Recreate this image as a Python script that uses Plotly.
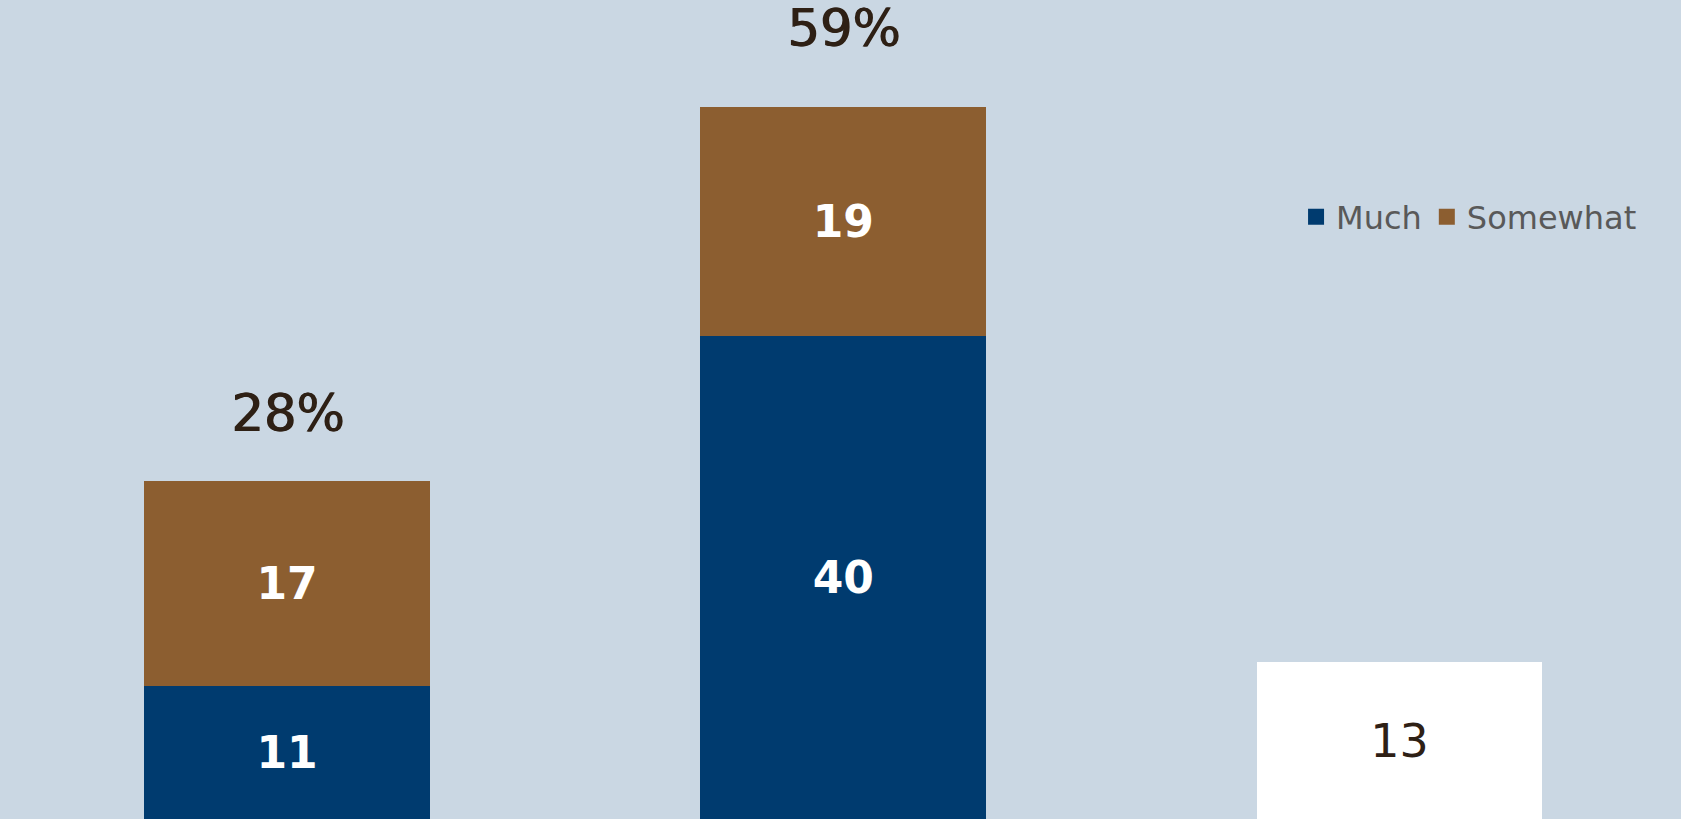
import plotly.graph_objects as go

categories = ["Group 1", "Group 2", "Group 3"]
much = [11, 40, None]
somewhat = [17, 19, None]
other = [None, None, 13]
totals = [28, 59, None]
total_labels = ["28%", "59%", None]
label_shift = [68, 78, None]

NAVY = "#003B6F"
BROWN = "#8C5E30"
BG = "#CAD7E3"
DARK = "#2E2015"

fig = go.Figure()
fig.add_trace(go.Bar(
    x=categories, y=much, name="Much", showlegend=False,
    marker=dict(color=NAVY, line=dict(width=0)),
    text=[str(v) if v is not None else "" for v in much], textposition="inside",
    insidetextanchor="middle", textangle=0,
    textfont=dict(family="DejaVu Sans", size=44, color="white", weight="bold"),
    width=0.514,
))
fig.add_trace(go.Bar(
    x=categories, y=somewhat, name="Somewhat", showlegend=False,
    marker=dict(color=BROWN, line=dict(width=0)),
    text=[str(v) if v is not None else "" for v in somewhat], textposition="inside",
    insidetextanchor="middle", textangle=0,
    textfont=dict(family="DejaVu Sans", size=44, color="white", weight="bold"),
    width=0.514,
))
fig.add_trace(go.Bar(
    x=categories, y=other, name="Other", showlegend=False,
    marker=dict(color="white", line=dict(width=0)),
    text=[str(v) if v is not None else "" for v in other], textposition="inside",
    insidetextanchor="middle", textangle=0,
    textfont=dict(family="DejaVu Sans", size=46, color=DARK),
    width=0.514,
))

# legend entries (square markers)
for name, col, grp in [("Much", NAVY, "g1"), ("Somewhat", BROWN, "g2")]:
    fig.add_trace(go.Scatter(x=[None], y=[None], mode="markers", name=name, legendgroup=grp,
                             marker=dict(symbol="square", size=16, color=col)))

for cat, tot, lab, sh in zip(categories, totals, total_labels, label_shift):
    if tot is None:
        continue
    fig.add_annotation(x=cat, y=tot, text=lab, showarrow=False, yanchor="middle",
                       yshift=sh, font=dict(family="DejaVu Sans", size=51, color=DARK,
                                            shadow="1.2px 0px 0px " + DARK))

fig.update_layout(
    barmode="stack",
    width=1681, height=819,
    paper_bgcolor=BG, plot_bgcolor=BG,
    margin=dict(l=0, r=0, t=0, b=0),
    xaxis=dict(visible=False, range=[-0.516, 2.506]),
    yaxis=dict(visible=False, range=[0, 67.85]),
    showlegend=True,
    legend=dict(orientation="h", x=0.771, y=0.735, xanchor="left", yanchor="middle",
                traceorder="grouped", tracegroupgap=18,
                font=dict(family="DejaVu Sans", size=32, color="#595959"),
                bgcolor="rgba(0,0,0,0)", itemwidth=30),
)

fig.write_html("out.html", config={"displayModeBar": False},
               post_script="document.body.style.margin='0';document.body.style.overflow='hidden';")
